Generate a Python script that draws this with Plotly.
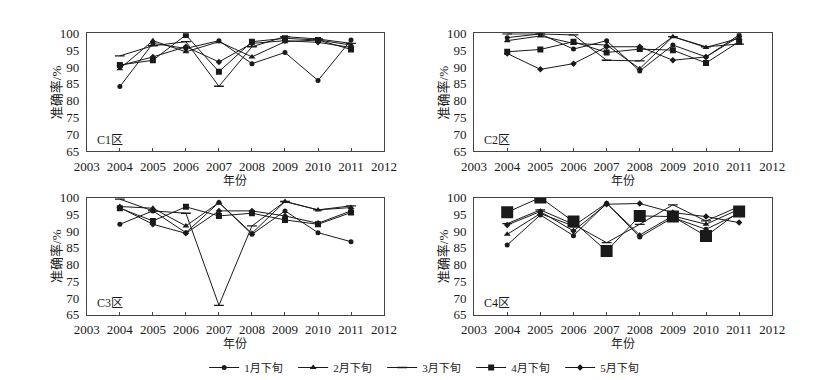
import plotly.graph_objects as go

years = [2004, 2005, 2006, 2007, 2008, 2009, 2010, 2011]
series_names = ["1月下旬", "2月下旬", "3月下旬", "4月下旬", "5月下旬"]
panel_labels = ["C1区", "C2区", "C3区", "C4区"]

# C1
c1_jan = [84.2, 97.0, 95.5, 97.8, 91.0, 94.3, 86.0, 98.0]
c1_feb = [89.5, 97.8, 94.5, 97.5, 93.0, 97.5, 98.0, 96.5]
c1_mar = [93.3, 96.3, 97.5, 84.3, 96.0, 99.0, 98.3, 97.0]
c1_apr = [90.6, 92.0, 99.5, 88.6, 97.5, 98.5, 98.0, 95.2]
c1_may = [90.4, 93.0, 96.0, 91.5, 97.0, 97.8, 97.3, 95.8]
# C2
c2_jan = [98.7, 99.8, 95.3, 97.8, 88.8, 96.5, 93.0, 99.5]
c2_feb = [97.8, 99.2, 97.0, 96.5, 89.5, 99.0, 95.8, 98.5]
c2_mar = [99.8, 99.8, 99.5, 92.0, 91.8, 99.0, 96.0, 96.8]
c2_apr = [94.5, 95.2, 97.5, 94.3, 95.3, 95.0, 91.2, 97.5]
c2_may = [94.0, 89.3, 91.0, 96.0, 96.0, 92.0, 93.0, 99.0]
# C3
c3_jan = [92.0, 96.0, 89.5, 98.5, 89.0, 96.0, 89.5, 86.8]
c3_feb = [97.3, 96.8, 91.5, 98.5, 89.3, 98.8, 96.3, 97.0]
c3_mar = [99.5, 96.0, 95.3, 67.8, 91.5, 98.8, 96.3, 97.5]
c3_apr = [96.8, 93.0, 97.2, 94.5, 95.3, 93.3, 92.0, 95.5]
c3_may = [97.0, 92.0, 89.3, 96.0, 96.0, 94.5, 92.3, 96.0]
# C4
c4_jan = [85.8, 94.8, 88.6, 98.3, 88.2, 94.0, 90.5, 95.3]
c4_feb = [89.0, 95.2, 91.5, 98.3, 88.8, 94.5, 92.0, 96.5]
c4_mar = [92.2, 96.3, 92.0, 86.5, 92.0, 97.8, 93.0, 97.3]
c4_apr = [95.6, 100.0, 92.8, 84.0, 94.5, 94.3, 88.5, 95.8]
c4_may = [91.8, 95.8, 90.0, 98.0, 98.2, 95.5, 94.3, 92.5]

panels = [
    [c1_jan, c1_feb, c1_mar, c1_apr, c1_may],
    [c2_jan, c2_feb, c2_mar, c2_apr, c2_may],
    [c3_jan, c3_feb, c3_mar, c3_apr, c3_may],
    [c4_jan, c4_feb, c4_mar, c4_apr, c4_may],
]

W, H = 816, 380
# pixel boxes (left, right, top, bottom)
boxes = [(68, 375, 19, 142), (468, 776, 19, 142), (68, 375, 190, 312), (468, 776, 190, 312)]

ink = "#1a1a1a"
symbols = ["circle", "triangle-up", "line-ew", "square", "diamond"]
sizes = [5, 6, 7, 6, 5]

SERIF = "'Liberation Serif', 'Times New Roman', 'DejaVu Serif', serif"
CJK = "'Liberation Serif', 'Noto Sans CJK SC', serif"

fig = go.Figure()
layout = dict(
    width=W, height=H, margin=dict(l=0, r=0, t=0, b=0),
    paper_bgcolor="white", plot_bgcolor="white",
    font=dict(family=SERIF, size=12, color=ink),
    showlegend=True,
    legend=dict(orientation="h", x=419 / W, xanchor="center", y=1 - 367 / H, yanchor="middle",
                font=dict(family=CJK, size=11, color=ink), entrywidth=44, entrywidthmode="pixels",
                itemwidth=30, tracegroupgap=0, bgcolor="rgba(0,0,0,0)"),
)
annotations = []

for p, (vals, box) in enumerate(zip(panels, boxes)):
    l, r, t, b = box
    ax = "" if p == 0 else str(p + 1)
    xa, ya = "x" + ax, "y" + ax
    xdom = [l / W, r / W]
    ydom = [1 - b / H, 1 - t / H]
    common = dict(showgrid=False, zeroline=False, showline=True, linecolor="#444", linewidth=1,
                  mirror=True, tickcolor="#444",
                  tickfont=dict(family=SERIF, size=13, color=ink))
    layout["xaxis" + ax] = dict(domain=xdom, range=[2003, 2012], tickmode="linear", tick0=2003, dtick=1,
                                anchor=ya, ticks="inside", ticklen=3, ticklabelstandoff=3, **common)
    layout["yaxis" + ax] = dict(domain=ydom, range=[65, 100], tickmode="linear", tick0=65, dtick=5,
                                anchor=xa, ticks="", ticklabelstandoff=4, **common)
    for s, ys in enumerate(vals):
        size = sizes[s]
        if p == 3 and s == 3:
            size = 12
        marker = dict(symbol=symbols[s], size=size, color=ink, line=dict(color=ink, width=1.3 if s == 2 else 0))
        fig.add_trace(go.Scatter(x=years, y=ys, mode="lines+markers", name=series_names[s],
                                 line=dict(color=ink, width=1), marker=marker,
                                 xaxis=xa, yaxis=ya, showlegend=(p == 0), legendgroup=series_names[s]))
    annotations.append(dict(text=panel_labels[p], x=(l + 8) / W, y=1 - (b - 12) / H,
                            xref="paper", yref="paper",
                            xanchor="left", yanchor="middle", showarrow=False,
                            font=dict(family=CJK, size=12, color=ink)))
    annotations.append(dict(text="准确率/%", x=(l - 32) / W, y=1 - (t + b) / 2 / H, xref="paper", yref="paper",
                            xanchor="center", yanchor="middle", textangle=-90, showarrow=False,
                            font=dict(family=CJK, size=13, color=ink)))
    annotations.append(dict(text="年份", x=(l + r) / 2 / W, y=1 - (b + 31) / H, xref="paper", yref="paper",
                            xanchor="center", yanchor="middle", showarrow=False,
                            font=dict(family=CJK, size=12, color=ink)))

layout["annotations"] = annotations
fig.update_layout(**layout)
fig.write_html("out.html")
